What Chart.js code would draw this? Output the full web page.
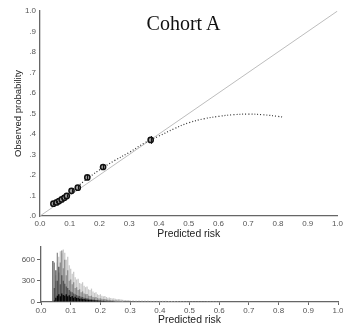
<!DOCTYPE html>
<html>
<head>
<meta charset="utf-8">
<script src="https://cdn.jsdelivr.net/npm/chart.js@4/dist/chart.umd.min.js"></script>
<style>
  html, body { margin: 0; padding: 0; background: #fff; }
  #wrap { position: relative; width: 343px; height: 326px; overflow: hidden; }
  #calib { position: absolute; left: 0; top: 0; }
  #hist { position: absolute; left: 0; top: 240px; }
  #title {
    position: absolute; left: 0; width: 343px; top: 12px;
    text-align: center; padding-left: 24px; box-sizing: border-box;
    font-family: "Liberation Serif", "DejaVu Serif", serif;
    font-size: 20px; color: #111;
  }
</style>
</head>
<body>
<div id="wrap">
  <canvas id="calib" width="343" height="240"></canvas>
  <canvas id="hist" width="343" height="86"></canvas>
  <div id="title">Cohort A</div>
</div>
<script>
/* ══════════════════════════════════════
   DATA – calibration points
══════════════════════════════════════ */
const calPred = [0.045, 0.056, 0.064, 0.073, 0.082, 0.090, 0.106, 0.127, 0.159, 0.212, 0.372];
const calObs  = [0.060, 0.066, 0.073, 0.081, 0.089, 0.098, 0.123, 0.138, 0.188, 0.239, 0.371];
const calLo   = [0.053, 0.059, 0.066, 0.074, 0.082, 0.090, 0.114, 0.129, 0.176, 0.225, 0.352];
const calHi   = [0.067, 0.073, 0.080, 0.088, 0.096, 0.106, 0.132, 0.147, 0.200, 0.253, 0.390];

/* smoothed calibration curve (dotted) */
const curvePred = [0.045, 0.1, 0.15, 0.2, 0.25, 0.3, 0.35, 0.4, 0.45, 0.5, 0.55, 0.6, 0.65, 0.7, 0.75, 0.8, 0.82];
const curveObs  = [0.058, 0.113, 0.172, 0.225, 0.27, 0.31, 0.355, 0.39, 0.425, 0.455, 0.474, 0.486, 0.494, 0.497, 0.494, 0.486, 0.482];

/* ══════════════════════════════════════
   DATA – predicted risk histogram
══════════════════════════════════════ */
const histBins = [
  0.040, 0.045, 0.050, 0.055, 0.060, 0.065, 0.070, 0.075, 0.080, 0.085,
  0.090, 0.095, 0.100, 0.105, 0.110, 0.115, 0.120, 0.125, 0.130, 0.135,
  0.140, 0.145, 0.150, 0.155, 0.160, 0.165, 0.170, 0.175, 0.180, 0.185,
  0.190, 0.195, 0.200, 0.205, 0.210, 0.215, 0.220, 0.225, 0.230, 0.235,
  0.240, 0.245, 0.250, 0.255, 0.260, 0.265, 0.270, 0.275, 0.280, 0.285,
  0.290, 0.295, 0.300
];
const histLight = [0, 120, 380, 560, 640, 720, 690, 745, 700, 600, 640, 520, 470, 400, 430, 350, 320, 330, 270, 260, 280, 230, 210, 220, 180, 170, 190, 150, 130, 140, 110, 100, 110, 90, 80, 85, 70, 60, 65, 55, 50, 52, 45, 40, 42, 38, 35, 33, 30, 28, 30, 26, 24];
const histMid   = [0, 560, 300, 700, 420, 560, 730, 480, 600, 380, 450, 300, 320, 250, 280, 200, 210, 170, 180, 140, 150, 120, 110, 115, 90, 85, 90, 70, 65, 70, 55, 50, 52, 45, 40, 42, 35, 32, 33, 28, 26, 25, 22, 20, 21, 18, 17, 16, 15, 14, 14, 13, 12];
const histDark  = [580, 200, 450, 300, 500, 250, 380, 300, 260, 220, 200, 170, 150, 140, 120, 110, 100, 90, 85, 75, 70, 62, 58, 52, 48, 44, 40, 36, 34, 30, 28, 26, 24, 22, 20, 19, 17, 16, 15, 14, 13, 12, 11, 10, 10, 9, 9, 8, 8, 7, 7, 6, 6];
const histBlack = [0, 20, 60, 90, 110, 80, 120, 100, 90, 110, 80, 95, 70, 85, 60, 75, 55, 60, 45, 50, 40, 42, 35, 36, 30, 28, 26, 24, 22, 20, 18, 17, 16, 15, 14, 13, 12, 11, 10, 10, 9, 9, 8, 8, 7, 7, 6, 6, 5, 5, 5, 4, 4];

/* sparse tail past 0.3 */
const tailBins = [
  0.31, 0.32, 0.33, 0.34, 0.35, 0.36, 0.37, 0.38, 0.39, 0.40,
  0.41, 0.42, 0.43, 0.44, 0.45, 0.46, 0.47, 0.48, 0.49, 0.50,
  0.51, 0.52, 0.53, 0.54, 0.55, 0.56, 0.57, 0.58, 0.59, 0.60,
  0.61, 0.62, 0.63, 0.64, 0.65, 0.66, 0.67, 0.68, 0.69, 0.70
];
const tailLight = [24, 22, 23, 21, 20, 21, 19, 18, 19, 17, 16, 17, 15, 15, 14, 14, 13, 13, 12, 12, 12, 11, 11, 11, 10, 10, 10, 9, 9, 9, 8, 8, 8, 7, 7, 7, 6, 6, 6, 5];
const tailDark  = [14, 12, 13, 11, 11, 10, 10, 9, 9, 8, 8, 8, 7, 7, 6, 6, 6, 5, 5, 5, 4, 4, 4, 3, 3, 0, 0, 0, 0, 0, 0, 0, 0, 0, 0, 0, 0, 0, 0, 0];

const xTicks = [0, 0.1, 0.2, 0.3, 0.4, 0.5, 0.6, 0.7, 0.8, 0.9, 1.0];
const histTicks = [0, 300, 600];

/* ══════════════════════════════════════
   HELPERS
══════════════════════════════════════ */
function toPoints(xs, ys) {
  return xs.map((x, i) => ({ x, y: ys[i] }));
}

const SANS = "Liberation Sans, Arial, sans-serif";
const tickFont = { family: SANS, size: 8 };
const axisTitleFont = { family: SANS, size: 10.4 };

/* error bars on the calibration points */
const errorBars = {
  id: "errorBars",
  afterDatasetsDraw(chart) {
    const { ctx, scales: { x, y } } = chart;
    ctx.save();
    ctx.strokeStyle = "#111";
    ctx.lineWidth = 1;
    calPred.forEach((p, i) => {
      const px = Math.round(x.getPixelForValue(p)) + 0.5;
      ctx.beginPath();
      ctx.moveTo(px, y.getPixelForValue(calLo[i]));
      ctx.lineTo(px, y.getPixelForValue(calHi[i]));
      ctx.stroke();
    });
    ctx.restore();
  },
};

/* ══════════════════════════════════════
   CALIBRATION CHART
══════════════════════════════════════ */
new Chart(document.getElementById("calib"), {
  type: "scatter",
  data: {
    datasets: [
      {
        data: toPoints(calPred, calObs),
        pointRadius: 2.6,
        pointBorderWidth: 1.5,
        pointBorderColor: "#111",
        pointBackgroundColor: "#9a9a9a",
        order: 0,
      },
      {
        data: toPoints(curvePred, curveObs),
        showLine: true,
        borderColor: "#333",
        borderWidth: 1.2,
        borderDash: [1, 2],
        tension: 0.4,
        pointRadius: 0,
        order: 1,
      },
      {
        data: [{ x: 0, y: 0 }, { x: 1, y: 1 }],
        showLine: true,
        borderColor: "#bdbdbd",
        borderWidth: 1,
        pointRadius: 0,
        order: 2,
      },
    ],
  },
  options: {
    responsive: false,
    animation: false,
    layout: { padding: { left: 9, right: 5, top: 11, bottom: 0 } },
    plugins: { legend: { display: false }, tooltip: { enabled: false } },
    scales: {
      x: {
        type: "linear",
        min: 0,
        max: 1,
        afterBuildTicks: (s) => { s.ticks = xTicks.map((v) => ({ value: v })); },
        afterFit: (s) => { s.height = 24; s.paddingLeft = 0; s.paddingRight = 0; },
        grid: { display: true, drawOnChartArea: false, drawTicks: false },
        border: { display: true, color: "#666", width: 1.3 },
        ticks: {
          font: tickFont,
          color: "#555",
          padding: 3,
          maxRotation: 0,
          callback: (v) => Number(v).toFixed(1),
        },
        title: {
          display: true,
          text: "Predicted risk",
          font: axisTitleFont,
          color: "#222",
          padding: 0,
        },
      },
      y: {
        min: 0,
        max: 1,
        afterBuildTicks: (s) => { s.ticks = xTicks.map((v) => ({ value: v })); },
        afterFit: (s) => { s.width = 31; },
        grid: { display: true, drawOnChartArea: false, drawTicks: false },
        border: { display: true, color: "#666", width: 1.3 },
        ticks: {
          font: tickFont,
          color: "#555",
          padding: 4,
          callback: (v) => (v === 1 ? "1.0" : Number(v).toFixed(1).replace(/^0/, "")),
        },
        title: {
          display: true,
          text: "Observed probability",
          font: { family: SANS, size: 9.5 },
          color: "#222",
          padding: { top: 4, bottom: 4 },
        },
      },
    },
  },
  plugins: [errorBars],
});

/* ══════════════════════════════════════
   HISTOGRAM
══════════════════════════════════════ */
const barStyle = {
  type: "bar",
  grouped: false,
  barPercentage: 0.85,
  categoryPercentage: 1,
  borderWidth: 0,
};

new Chart(document.getElementById("hist"), {
  type: "bar",
  data: {
    datasets: [
      { ...barStyle, data: toPoints(histBins, histBlack), backgroundColor: "#000", order: 0 },
      { ...barStyle, data: toPoints(histBins.concat(tailBins), histDark.concat(tailDark)), backgroundColor: "#505050", order: 1 },
      { ...barStyle, data: toPoints(histBins, histMid), backgroundColor: "#8c8c8c", order: 2 },
      { ...barStyle, data: toPoints(histBins.concat(tailBins), histLight.concat(tailLight)), backgroundColor: "#c8c8c8", order: 3 },
    ],
  },
  options: {
    responsive: false,
    animation: false,
    layout: { padding: { left: 0, right: 5, top: 7, bottom: 0 } },
    plugins: { legend: { display: false }, tooltip: { enabled: false } },
    scales: {
      x: {
        type: "linear",
        min: 0,
        max: 1,
        offset: false,
        afterBuildTicks: (s) => { s.ticks = xTicks.map((v) => ({ value: v })); },
        afterFit: (s) => { s.height = 24; s.paddingLeft = 0; s.paddingRight = 0; },
        grid: { display: true, offset: false, drawOnChartArea: false, drawTicks: true, tickLength: 3, color: "#666" },
        border: { display: true, color: "#666", width: 1.3 },
        ticks: {
          font: tickFont,
          color: "#555",
          padding: 1,
          maxRotation: 0,
          callback: (v) => Number(v).toFixed(1),
        },
        title: {
          display: true,
          text: "Predicted risk",
          font: axisTitleFont,
          color: "#222",
          padding: 0,
        },
      },
      y: {
        min: 0,
        max: 780,
        afterBuildTicks: (s) => { s.ticks = histTicks.map((v) => ({ value: v })); },
        afterFit: (s) => { s.width = 41; },
        grid: { display: true, drawOnChartArea: false, drawTicks: true, tickLength: 4, color: "#666" },
        border: { display: true, color: "#666", width: 1.3 },
        ticks: {
          font: tickFont,
          color: "#555",
          padding: 2,
        },
      },
    },
  },
});
</script>
</body>
</html>
